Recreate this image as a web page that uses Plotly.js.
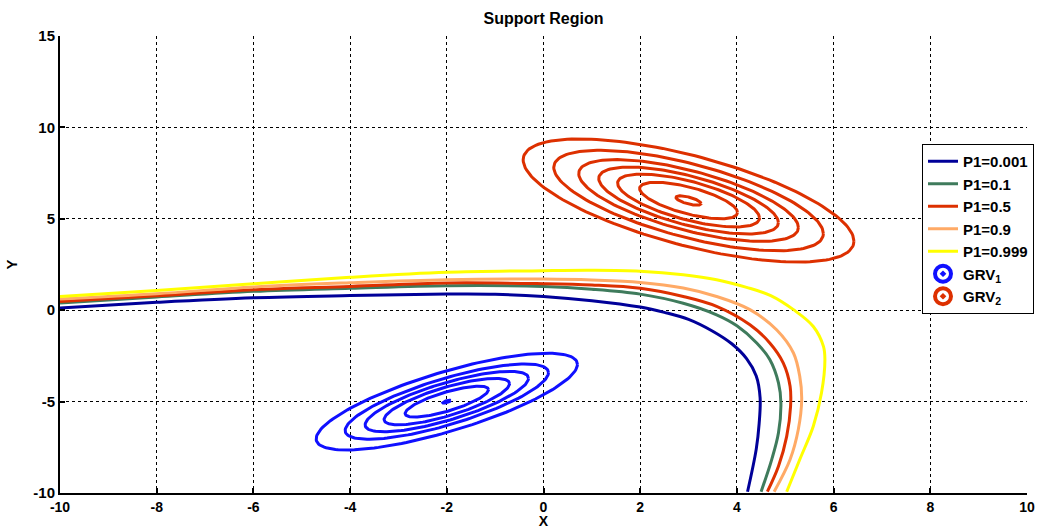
<!DOCTYPE html>
<html>
<head>
<meta charset="utf-8">
<script src="https://cdn.plot.ly/plotly-3.0.1.min.js"></script>
<style>html,body{margin:0;padding:0;background:#fff;}#chart{width:1038px;height:529px;}</style>
</head>
<body>
<div id="chart"></div>
<script>
// ---- data ----
const p1Names = ['P1=0.001', 'P1=0.1', 'P1=0.5', 'P1=0.9', 'P1=0.999'];

const x_p001 = [-10, -8, -6, -4, -2, -1, 0, 1, 2, 2.5, 3.0, 3.5, 3.9, 4.2, 4.4, 4.48, 4.46, 4.4, 4.22];
const y_p001 = [0.12, 0.43, 0.68, 0.8, 0.88, 0.87, 0.75, 0.52, 0.17, -0.12, -0.5, -1.15, -1.85, -2.65, -3.6, -4.8, -6.2, -7.6, -9.93];

const x_p01 = [-10, -8, -6, -4, -2, 0, 1, 2, 2.89, 3.58, 4.0, 4.41, 4.68, 4.86, 4.91, 4.86, 4.72, 4.5];
const y_p01 = [0.39, 0.72, 1.03, 1.2, 1.34, 1.3, 1.15, 0.88, 0.38, -0.25, -0.85, -1.79, -2.7, -3.98, -5.07, -6.71, -8.17, -9.93];

const x_p05 = [-10, -8, -6, -4, -2, 0, 1, 2, 2.89, 3.58, 4.27, 4.68, 4.96, 5.1, 5.11, 5.03, 4.86, 4.63];
const y_p05 = [0.48, 0.79, 1.12, 1.3, 1.49, 1.45, 1.38, 1.2, 0.75, 0.21, -0.8, -1.79, -2.89, -4.16, -5.26, -6.9, -8.54, -9.93];

const x_p09 = [-10, -8, -6, -4, -2, 0, 1, 2, 2.89, 3.58, 4.27, 4.82, 5.17, 5.3, 5.34, 5.27, 5.1, 4.77];
const y_p09 = [0.61, 0.9, 1.27, 1.5, 1.67, 1.7, 1.65, 1.52, 1.21, 0.75, 0.03, -1.07, -2.34, -3.62, -4.89, -6.53, -8.17, -9.93];

const x_p0999 = [-10, -8, -6, -4, -2, 0, 1, 2, 2.89, 3.58, 4.2, 4.7, 5.17, 5.58, 5.79, 5.82, 5.75, 5.58, 5.3, 5.03];
const y_p0999 = [0.75, 1.08, 1.45, 1.8, 2.07, 2.16, 2.18, 2.13, 1.94, 1.67, 1.25, 0.8, 0.03, -0.89, -1.98, -2.7, -4.52, -6.35, -8.17, -9.93];

// Gaussian contour ellipses: centre, shape (covariance of outer ring) and relative ring sizes
const grv1Name = 'GRV<sub>1</sub>';
const grv1Mean = [-2, -5];
const grv1Cov = [[7.3, 5.5], [5.5, 7.0]];
const grv1Rings = [1, 0.778, 0.625, 0.48, 0.319, 0.03];

const grv2Name = 'GRV<sub>2</sub>';
const grv2Mean = [3, 6];
const grv2Cov = [[11.7, -7.6], [-7.6, 11.36]];
const grv2Rings = [1, 0.815, 0.664, 0.543, 0.429, 0.296, 0.076];

const xTicks = [-10, -8, -6, -4, -2, 0, 2, 4, 6, 8, 10];
const yTicks = [-10, -5, 0, 5, 10, 15];

// ---- styles ----
const p1Colors = ['#000099', '#3f7b5c', '#dd3000', '#ffaa66', '#ffff00'];
const grv1Color = '#1010ff';
const grv2Color = '#dd3000';
const FONT = 'Liberation Sans, Arial, sans-serif';

function ellipse(mean, cov, r) {
  const l11 = Math.sqrt(cov[0][0]);
  const l21 = cov[1][0] / l11;
  const l22 = Math.sqrt(cov[1][1] - l21 * l21);
  const xs = [], ys = [];
  const n = 160;
  for (let i = 0; i <= n; i++) {
    const t = 2 * Math.PI * i / n;
    const c = Math.cos(t), s = Math.sin(t);
    xs.push(mean[0] + r * l11 * c);
    ys.push(mean[1] + r * (l21 * c + l22 * s));
  }
  return {xs, ys};
}

const curveX = [x_p001, x_p01, x_p05, x_p09, x_p0999];
const curveY = [y_p001, y_p01, y_p05, y_p09, y_p0999];

const traces = [];
curveX.forEach((xs, i) => {
  traces.push({
    type: 'scatter', mode: 'lines', x: xs, y: curveY[i], name: p1Names[i],
    line: {color: p1Colors[i], width: 3, shape: 'spline', smoothing: 1}
  });
});

function addGrv(mean, cov, rings, color, name) {
  rings.forEach(r => {
    const e = ellipse(mean, cov, r);
    traces.push({
      type: 'scatter', mode: 'lines', x: e.xs, y: e.ys, showlegend: false, hoverinfo: 'skip',
      line: {color: color, width: 3}, legendgroup: name
    });
  });
  traces.push({
    type: 'scatter', mode: 'markers', x: [null], y: [null], name: name, legendgroup: name,
    marker: {symbol: 'circle-open-dot', size: 16, color: color, line: {width: 4, color: color}}
  });
}
addGrv(grv1Mean, grv1Cov, grv1Rings, grv1Color, grv1Name);
addGrv(grv2Mean, grv2Cov, grv2Rings, grv2Color, grv2Name);

const axisCommon = {
  showgrid: true, gridcolor: '#000000', griddash: 'dot', gridwidth: 1,
  zeroline: false, showline: true, linecolor: '#000000', linewidth: 2,
  ticks: 'inside', ticklen: 5, tickwidth: 2, tickcolor: '#000000',
  tickfont: {family: FONT, size: 15, color: '#000', weight: 'bold'},
  fixedrange: true
};

const layout = {
  width: 1038, height: 529,
  margin: {l: 60, r: 11, t: 36, b: 36, autoexpand: false},
  paper_bgcolor: '#ffffff', plot_bgcolor: '#ffffff',
  font: {family: FONT, size: 15, color: '#000'},
  title: {text: 'Support Region', font: {family: FONT, size: 16, weight: 'bold', color: '#000'},
          x: 0.5, xref: 'paper', y: 1 - 18 / 529, yref: 'container', yanchor: 'middle'},
  xaxis: Object.assign({}, axisCommon, {
    range: [-10, 10], tickvals: xTicks, ticktext: xTicks.map(String),
    tickfont: {family: FONT, size: 14, color: '#000', weight: 'bold'},
    title: {text: 'X', font: {family: FONT, size: 14, weight: 'bold', color: '#000'}, standoff: 3}
  }),
  yaxis: Object.assign({}, axisCommon, {
    range: [-10, 15], tickvals: yTicks, ticktext: yTicks.map(String),
    title: {text: 'Y', font: {family: FONT, size: 15, weight: 'bold', color: '#000'}, standoff: 12}
  }),
  legend: {
    x: (922 - 60) / 967, y: (493 - 144) / 457, xanchor: 'left', yanchor: 'top',
    bgcolor: '#ffffff', bordercolor: '#000000', borderwidth: 1,
    font: {family: FONT, size: 15, weight: 'bold', color: '#000'},
    tracegroupgap: 0, itemwidth: 30
  },
  showlegend: true
};

Plotly.newPlot('chart', traces, layout, {staticPlot: true, displayModeBar: false});
</script>
</body>
</html>
